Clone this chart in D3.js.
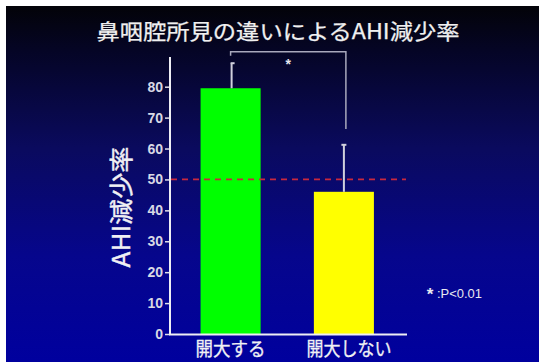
<!DOCTYPE html>
<html><head><meta charset="utf-8">
<script src="https://cdn.jsdelivr.net/npm/d3@7"></script>
<style>html,body{margin:0;padding:0;background:#fff;}svg{display:block;}</style>
</head><body>
<script>
const categories = ["開大する", "開大しない"];
const means = [79.5, 46];
const sdUpper = [8.1, 15.2];
const barColors = ["#00ff00", "#ffff00"];
const yTicks = [0, 10, 20, 30, 40, 50, 60, 70, 80];
const refValue = 50;
const bracketTop = 91.3, bracketLeftEnd = 90.0, bracketRightEnd = 66.3;
const titleText = "鼻咽腔所見の違いによるAHI減少率";
const yLabel = "AHI減少率";
const noteStar = "*";
const noteText = ":P<0.01";

const W = 540, H = 362;
const svg = d3.select("body").append("svg").attr("width", W).attr("height", H);
const defs = svg.append("defs");
const grad = defs.append("linearGradient").attr("id", "bg").attr("x1", 0).attr("y1", 0).attr("x2", 0).attr("y2", 1);
[[0, "#030308"], [0.12, "#050524"], [0.4, "#0a0a5e"], [0.7, "#06068c"], [1, "#00009e"]]
  .forEach(([o, c]) => grad.append("stop").attr("offset", o).attr("stop-color", c));
svg.append("rect").attr("x", 6).attr("y", 6).attr("width", W - 7).attr("height", H - 6).attr("fill", "url(#bg)");

const y = d3.scaleLinear().domain([0, 80]).range([334, 86.7]);
const x = d3.scaleBand().domain(categories).range([170, 404.5]).paddingInner(0.47).paddingOuter(0.27);

const cjk = "'Noto Sans CJK JP', sans-serif";

// title
svg.append("text").attr("x", 278).attr("y", 39).attr("text-anchor", "middle")
  .attr("font-family", cjk).attr("font-size", 21).attr("fill", "#f0f0f0")
  .attr("stroke", "#f0f0f0").attr("stroke-width", 0.25)
  .attr("textLength", 363).attr("lengthAdjust", "spacingAndGlyphs").text(titleText);

// bars
svg.selectAll("rect.bar").data(categories).enter().append("rect").attr("class", "bar")
  .attr("x", d => x(d)).attr("width", x.bandwidth())
  .attr("y", (d, i) => y(means[i])).attr("height", (d, i) => y(0) - y(means[i]))
  .attr("fill", (d, i) => barColors[i]);

// error bars
categories.forEach((c, i) => {
  const cx = x(c) + x.bandwidth() / 2 + (i === 0 ? 1 : 0);
  svg.append("line").attr("x1", cx).attr("x2", cx).attr("y1", y(means[i])).attr("y2", y(means[i] + sdUpper[i]))
    .attr("stroke", "#d0d0dc").attr("stroke-width", 2);
  svg.append("line").attr("x1", cx - (i === 0 ? 1 : 2.5)).attr("x2", cx + (i === 0 ? 3 : 2.5))
    .attr("y1", y(means[i] + sdUpper[i])).attr("y2", y(means[i] + sdUpper[i]))
    .attr("stroke", "#d0d0dc").attr("stroke-width", 2);
});

// reference dashed line
svg.append("line").attr("x1", 171).attr("x2", 406).attr("y1", y(refValue)).attr("y2", y(refValue))
  .attr("stroke", "#c8283e").attr("stroke-width", 1.8).attr("stroke-dasharray", "6,5");

// significance bracket
const bx1 = x(categories[0]) + x.bandwidth() / 2, bx2 = x(categories[1]) + x.bandwidth() / 2 + 2;
svg.append("path")
  .attr("d", `M${bx1},${y(bracketLeftEnd)}V${y(bracketTop)}H${bx2}V${y(bracketRightEnd)}`)
  .attr("fill", "none").attr("stroke", "#a8a8bc").attr("stroke-width", 1.5);
svg.append("text").attr("x", (bx1 + bx2) / 2).attr("y", y(bracketTop) + 17).attr("text-anchor", "middle")
  .attr("font-family", "Liberation Sans, Arial, sans-serif").attr("font-weight", "bold").attr("font-size", 14)
  .attr("fill", "#e8e8f0").text("*");

// axes
const gy = svg.append("g").attr("transform", "translate(170,0)")
  .call(d3.axisLeft(y).tickValues(yTicks).tickSize(5).tickSizeOuter(0));
gy.select(".domain").remove();
gy.selectAll(".tick line").attr("stroke", "#e0e0e8").attr("stroke-width", 1.5);
gy.selectAll(".tick text").attr("fill", "#d8d8e4").attr("font-family", "Liberation Sans, Arial, sans-serif")
  .attr("font-weight", "bold").attr("font-size", 14).attr("x", -7);
svg.append("line").attr("x1", 170).attr("x2", 170).attr("y1", 57).attr("y2", 335)
  .attr("stroke", "#eeeef4").attr("stroke-width", 2);
svg.append("line").attr("x1", 169).attr("x2", 407).attr("y1", 334.5).attr("y2", 334.5)
  .attr("stroke", "#eeeef4").attr("stroke-width", 2);

// x labels
const xl = [70, 85];
categories.forEach((c, i) => {
  svg.append("text").attr("x", x(c) + x.bandwidth() / 2 + (i === 1 ? 5 : 0)).attr("y", 356).attr("text-anchor", "middle")
    .attr("font-family", cjk).attr("font-size", 19).attr("fill", "#f0f0f4")
    .attr("stroke", "#f0f0f4").attr("stroke-width", 0.3)
    .attr("textLength", xl[i]).attr("lengthAdjust", "spacingAndGlyphs").text(c);
});

// y label
svg.append("text").attr("transform", "translate(130,207) rotate(-90)").attr("text-anchor", "middle")
  .attr("font-family", cjk).attr("font-size", 24).attr("fill", "#f0f0f4")
  .attr("stroke", "#f0f0f4").attr("stroke-width", 0.4)
  .attr("textLength", 121).attr("lengthAdjust", "spacingAndGlyphs").text(yLabel);

// note
svg.append("text").attr("x", 430).attr("y", 300).attr("text-anchor", "middle")
  .attr("font-family", "Liberation Sans, Arial, sans-serif").attr("font-weight", "bold").attr("font-size", 17)
  .attr("fill", "#e8e8f0").text(noteStar);
svg.append("text").attr("x", 437).attr("y", 298)
  .attr("font-family", "Liberation Sans, Arial, sans-serif").attr("font-size", 12).attr("fill", "#e8e8f0")
  .attr("textLength", 45).attr("lengthAdjust", "spacingAndGlyphs").text(noteText);
</script>
</body></html>
